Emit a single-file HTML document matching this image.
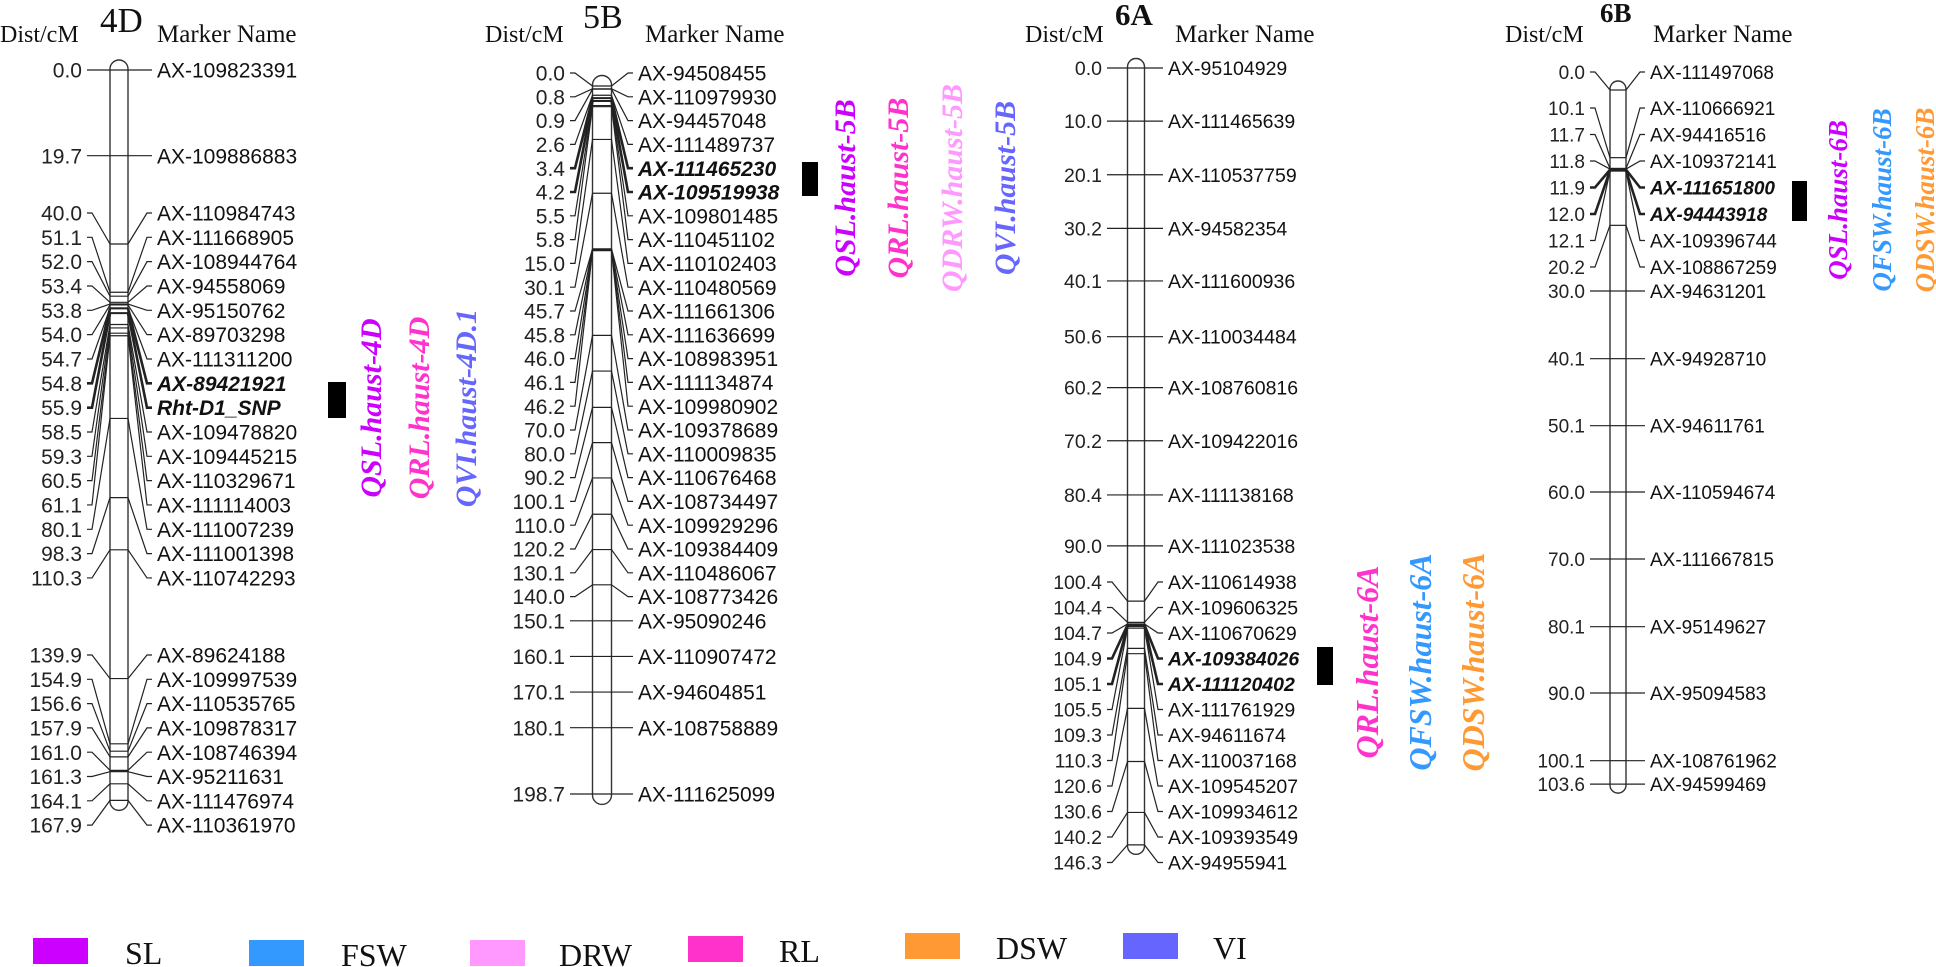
<!DOCTYPE html>
<html><head><meta charset="utf-8">
<style>
html,body{margin:0;padding:0;background:#fff;}
svg{display:block;}
</style></head>
<body>
<svg id="map" width="1936" height="967" viewBox="0 0 1936 967" xmlns="http://www.w3.org/2000/svg">
  <g id="headers" font-family="Liberation Serif, serif" fill="#111">
    <text x="0" y="42" font-size="24">Dist/cM</text>
    <text x="100" y="32" font-size="35">4D</text>
    <text x="157" y="42" font-size="25">Marker Name</text>
    <text x="485" y="42" font-size="24">Dist/cM</text>
    <text x="583" y="28" font-size="34">5B</text>
    <text x="645" y="42" font-size="25">Marker Name</text>
    <text x="1025" y="42" font-size="24">Dist/cM</text>
    <text x="1115" y="25" font-size="31" font-weight="bold">6A</text>
    <text x="1175" y="42" font-size="25">Marker Name</text>
    <text x="1505" y="42" font-size="24">Dist/cM</text>
    <text x="1600" y="22" font-size="27" font-weight="bold">6B</text>
    <text x="1653" y="42" font-size="25">Marker Name</text>
  </g>
  <g id="chroms"></g>
  <g id="qtls"></g>
  <g id="legend" font-family="Liberation Serif, serif" font-size="32" fill="#111"></g>
</svg>
<script>
// ---- data ----
const dist4D = [0,19.7,40.0,51.1,52.0,53.4,53.8,54.0,54.7,54.8,55.9,58.5,59.3,60.5,61.1,80.1,98.3,110.3,139.9,154.9,156.6,157.9,161.0,161.3,164.1,167.9];
const names4D = ["AX-109823391","AX-109886883","AX-110984743","AX-111668905","AX-108944764","AX-94558069","AX-95150762","AX-89703298","AX-111311200","AX-89421921","Rht-D1_SNP","AX-109478820","AX-109445215","AX-110329671","AX-111114003","AX-111007239","AX-111001398","AX-110742293","AX-89624188","AX-109997539","AX-110535765","AX-109878317","AX-108746394","AX-95211631","AX-111476974","AX-110361970"];
const bold4D = ["AX-89421921","Rht-D1_SNP"];

const dist5B = [0,0.8,0.9,2.6,3.4,4.2,5.5,5.8,15.0,30.1,45.7,45.8,46.0,46.1,46.2,70.0,80.0,90.2,100.1,110.0,120.2,130.1,140.0,150.1,160.1,170.1,180.1,198.7];
const names5B = ["AX-94508455","AX-110979930","AX-94457048","AX-111489737","AX-111465230","AX-109519938","AX-109801485","AX-110451102","AX-110102403","AX-110480569","AX-111661306","AX-111636699","AX-108983951","AX-111134874","AX-109980902","AX-109378689","AX-110009835","AX-110676468","AX-108734497","AX-109929296","AX-109384409","AX-110486067","AX-108773426","AX-95090246","AX-110907472","AX-94604851","AX-108758889","AX-111625099"];
const bold5B = ["AX-111465230","AX-109519938"];

const dist6A = [0,10.0,20.1,30.2,40.1,50.6,60.2,70.2,80.4,90.0,100.4,104.4,104.7,104.9,105.1,105.5,109.3,110.3,120.6,130.6,140.2,146.3];
const names6A = ["AX-95104929","AX-111465639","AX-110537759","AX-94582354","AX-111600936","AX-110034484","AX-108760816","AX-109422016","AX-111138168","AX-111023538","AX-110614938","AX-109606325","AX-110670629","AX-109384026","AX-111120402","AX-111761929","AX-94611674","AX-110037168","AX-109545207","AX-109934612","AX-109393549","AX-94955941"];
const bold6A = ["AX-109384026","AX-111120402"];

const dist6B = [0,10.1,11.7,11.8,11.9,12.0,12.1,20.2,30.0,40.1,50.1,60.0,70.0,80.1,90.0,100.1,103.6];
const names6B = ["AX-111497068","AX-110666921","AX-94416516","AX-109372141","AX-111651800","AX-94443918","AX-109396744","AX-108867259","AX-94631201","AX-94928710","AX-94611761","AX-110594674","AX-111667815","AX-95149627","AX-95094583","AX-108761962","AX-94599469"];
const bold6B = ["AX-111651800","AX-94443918"];

const qtl4D = ["QSL.haust-4D","QRL.haust-4D","QVI.haust-4D.1"];
const qtl5B = ["QSL.haust-5B","QRL.haust-5B","QDRW.haust-5B","QVI.haust-5B"];
const qtl6A = ["QRL.haust-6A","QFSW.haust-6A","QDSW.haust-6A"];
const qtl6B = ["QSL.haust-6B","QFSW.haust-6B","QDSW.haust-6B"];

const traitNames = ["SL","FSW","DRW","RL","DSW","VI"];

// ---- styling / layout ----
const traitColors = {SL:"#cc00ff",FSW:"#3399ff",DRW:"#ff99ff",RL:"#ff33cc",DSW:"#ff9933",VI:"#6666ff"};
const NS = "http://www.w3.org/2000/svg";
function mk(tag, attrs, parent){
  const e = document.createElementNS(NS, tag);
  for (const k in attrs) e.setAttribute(k, attrs[k]);
  parent.appendChild(e);
  return e;
}
const chromGroup = document.getElementById('chroms');
const qtlGroup = document.getElementById('qtls');
const legendGroup = document.getElementById('legend');

const layouts = [
  {id:"4d", dist:dist4D, names:names4D, bold:bold4D, cx:119, w:18, distRight:82, markerLeft:157, y0:70, scale:4.35, fs:21,
   clusters:[[2,17,213,24.33],[18,25,655,24.3]],
   qtl:qtl4D, qtlX:[381,429,476], qtlCY:408, qtlFs:30, bar:[328,382,18,36]},
  {id:"5b", dist:dist5B, names:names5B, bold:bold5B, cx:602, w:19, distRight:565, markerLeft:638, y0:86, scale:3.563, fs:21,
   clusters:[[0,22,73,23.8]],
   qtl:qtl5B, qtlX:[855,908,962,1015], qtlCY:188, qtlFs:30, bar:[802,162,16,34]},
  {id:"6a", dist:dist6A, names:names6A, bold:bold6A, cx:1136, w:17, distRight:1102, markerLeft:1168, y0:68, scale:5.31, fs:19.5,
   clusters:[[10,21,582,25.5]],
   qtl:qtl6A, qtlX:[1378,1431,1484], qtlCY:662, qtlFs:32, bar:[1317,647,16,38]},
  {id:"6b", dist:dist6B, names:names6B, bold:bold6B, cx:1618, w:16, distRight:1585, markerLeft:1650, y0:90, scale:6.7, fs:19,
   clusters:[[0,0,72,0],[1,7,108,26.5]],
   qtl:qtl6B, qtlX:[1847,1891,1934], qtlCY:200, qtlFs:27, bar:[1792,181,15,40]}
];

function traitOf(q){ return q.slice(1, q.indexOf('.')); }

layouts.forEach(L => {
  const g = mk('g', {}, chromGroup);
  
  
  const yOf = d => L.y0 + d * L.scale;
  const maxD = Math.max(...L.dist);
  const r = L.w / 2;
  const body = mk('rect', {x:L.cx - r, y:yOf(0) - r - 1, width:L.w, height:yOf(maxD) - yOf(0) + 2*r + 2, rx:r, ry:r, fill:'#fff', stroke:'#333', 'stroke-width':1.4}, g);
  
  

  const labelY = L.dist.map(d => yOf(d));
  L.clusters.forEach(c => { for (let i = c[0]; i <= c[1]; i++) labelY[i] = c[2] + (i - c[0]) * c[3]; });

  L.dist.forEach((d, i) => {
    const ty = yOf(d), ly = labelY[i];
    const isBold = L.bold.includes(L.names[i]);
    const sw = isBold ? 2.6 : 1.2;
    const left = L.cx - r, right = L.cx + r;
    const tick = mk('line', {x1:left, x2:right, y1:ty, y2:ty, stroke:'#222', 'stroke-width':isBold ? 2 : 1.2}, g);
    
    
    const conn = mk('path', {d:`M${L.distRight+5},${ly} L${L.distRight+10},${ly} L${left},${ty} M${right},${ty} L${L.markerLeft-10},${ly} L${L.markerLeft-5},${ly}`, fill:'none', stroke:'#222', 'stroke-width':sw}, g);
    
    
    const dt = mk('text', {x:L.distRight, y:ly + L.fs*0.36, 'text-anchor':'end', 'font-family':'Liberation Sans, Arial, sans-serif', 'font-size':L.fs, fill:'#222'}, g);
    dt.textContent = d.toFixed(1);
    
    
    const nt = mk('text', {x:L.markerLeft, y:ly + L.fs*0.36, 'font-family':'Liberation Sans, Arial, sans-serif', 'font-size':L.fs, fill:'#111'}, g);
    if (isBold){ nt.setAttribute('font-weight','bold'); nt.setAttribute('font-style','italic'); }
    nt.textContent = L.names[i];
    
    
  });

  const bar = mk('rect', {x:L.bar[0], y:L.bar[1], width:L.bar[2], height:L.bar[3], fill:'#000'}, qtlGroup);
  
  

  L.qtl.forEach((q, k) => {
    const x = L.qtlX[k], y = L.qtlCY;
    const t = mk('text', {x:x, y:y, transform:`rotate(-90 ${x} ${y})`, 'text-anchor':'middle', 'font-family':'Liberation Serif, serif', 'font-size':L.qtlFs, 'font-weight':'bold', 'font-style':'italic', fill:traitColors[traitOf(q)]}, qtlGroup);
    t.textContent = q;
    
    
  });
});

const legSwX = [33,249,470,688,905,1123];
const legTxtX = [125,341,559,779,996,1213];
const legSwY = [938,940,940,936,933,933];
traitNames.forEach((n, i) => {
  const sw = mk('rect', {x:legSwX[i], y:legSwY[i], width:55, height:26, fill:traitColors[n]}, legendGroup);
  
  
  const t = mk('text', {x:legTxtX[i], y:legSwY[i] + 26}, legendGroup);
  t.textContent = n;
  
  
});
</script>
</body></html>
